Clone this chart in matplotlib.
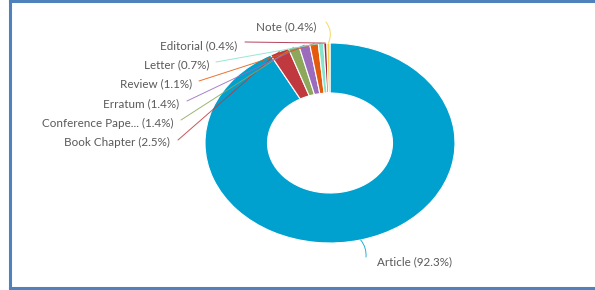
import numpy as np
import matplotlib
matplotlib.use("Agg")
import matplotlib.pyplot as plt

# ── DATA ──────────────────────────────────────────────────────────────────────
labels = ["Article", "Book Chapter", "Conference Pape...", "Erratum",
          "Review", "Letter", "Editorial", "Note"]
shares = [92.3, 2.5, 1.4, 1.4, 1.1, 0.7, 0.4, 0.4]
colors = ["#00a0cf", "#c0393f", "#8da85b", "#9b6bbd",
          "#e45a0c", "#86e3cc", "#a7213f", "#f2d24a"]

# label text anchor (right edge / left edge for Article) in figure pixels from top
label_pos = {
    "Article":            (377, 262, "left"),
    "Book Chapter":       (170, 142, "right"),
    "Conference Pape...": (173, 123, "right"),
    "Erratum":            (179, 104, "right"),
    "Review":             (192, 84, "right"),
    "Letter":             (209, 65, "right"),
    "Editorial":          (237, 46, "right"),
    "Note":               (316, 27, "right"),
}
# connector start points (figure pixels from top)
line_start = {
    "Article":            (366, 257),
    "Book Chapter":       (178, 140),
    "Conference Pape...": (181, 120),
    "Erratum":            (187, 101),
    "Review":             (199, 81),
    "Letter":             (216, 62),
    "Editorial":          (245, 42),
    "Note":               (326, 22),
}

W, H = 595, 290
fig = plt.figure(figsize=(W / 100, H / 100), dpi=100)
fig.patch.set_facecolor("white")

# donut centre (330,143), radii 125 x 100 px
cx, cy, rx, ry = 330, 143, 125, 100
ax = fig.add_axes([(cx - rx) / W, (H - cy - ry) / H, 2 * rx / W, 2 * ry / H])
wedges, _ = ax.pie(shares, colors=colors, startangle=90, counterclock=False,
                   radius=1.0,
                   wedgeprops=dict(width=0.5, edgecolor="white", linewidth=0.8))
ax.set_aspect("auto")
ax.set_xlim(-1, 1)
ax.set_ylim(-1, 1)
ax.axis("off")

# leader lines + labels
for w, lab, val in zip(wedges, labels, shares):
    ang = np.deg2rad((w.theta1 + w.theta2) / 2)
    px, py = np.cos(ang), np.sin(ang)
    sx, sy = line_start[lab]
    rad = 0.0
    if lab == "Note":
        rad = -0.3
    elif lab == "Article":
        rad = 0.2
    ax.annotate("", xy=(px, py), xycoords="data",
                xytext=(sx, H - sy), textcoords="figure pixels",
                arrowprops=dict(arrowstyle="-", color=w.get_facecolor(),
                                lw=0.7, alpha=0.85, shrinkA=0, shrinkB=0,
                                connectionstyle=f"arc3,rad={rad}"),
                zorder=5, annotation_clip=False)
    tx, ty, ha = label_pos[lab]
    fig.text(tx / W, (H - ty) / H, f"{lab} ({val}%)", ha=ha, va="center",
             fontsize=8.4, color="#595959", family=["Lato", "DejaVu Sans"])

# blue frame (left, top, bottom)
for xs, ys in [([10, 10], [1.5, H - 1]), ([10, W], [H - 1, H - 1]), ([10, W], [2, 2])]:
    fig.add_artist(plt.Line2D([x / W for x in xs], [y / H for y in ys],
                              transform=fig.transFigure, color="#4f81bd", lw=2.2))

fig.savefig("out.png", dpi=100)
